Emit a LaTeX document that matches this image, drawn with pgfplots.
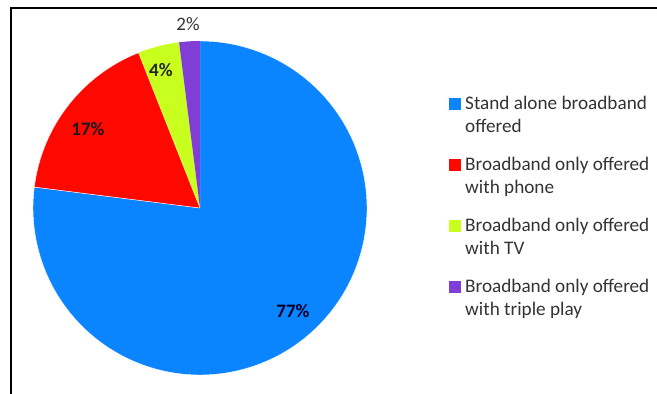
\documentclass[border=0pt]{standalone}
\usepackage{pgfplots}
\pgfplotsset{compat=1.18}
\usepackage{fontspec}
\setmainfont{Carlito}
\definecolor{pieblue}{RGB}{10,132,255}
\definecolor{piered}{RGB}{255,8,0}
\definecolor{piegreen}{RGB}{200,255,30}
\definecolor{piepurple}{RGB}{128,62,214}
% data (percent)
\def\vA{77}\def\vB{17}\def\vC{4}\def\vD{2}
\pgfmathsetmacro\aA{90}
\pgfmathsetmacro\aB{\aA-3.6*\vA}
\pgfmathsetmacro\aC{\aB-3.6*\vB}
\pgfmathsetmacro\aD{\aC-3.6*\vC}
\pgfmathsetmacro\aE{\aD-3.6*\vD}
\begin{document}
\begin{tikzpicture}
\useasboundingbox (0,0) rectangle (657pt,394pt);
\draw[line width=1.3pt] (11pt,0) -- (11pt,386pt) -- (657pt,386pt);
\begin{axis}[hide axis, x=167pt, y=167pt, xmin=-1.05, xmax=1.05, ymin=-1.05, ymax=1.05,
  anchor=origin, at={(200pt,186pt)}, clip=false]
\addplot[fill=pieblue, draw=white, line width=0.4pt, domain=\aB:\aA, samples=150, variable=\t] ({cos(\t)},{sin(\t)}) -- (axis cs:0,0) -- cycle;
\addplot[fill=piered, draw=white, line width=0.4pt, domain=\aC:\aB, samples=60, variable=\t] ({cos(\t)},{sin(\t)}) -- (axis cs:0,0) -- cycle;
\addplot[fill=piegreen, draw=none, domain=\aD:\aC, samples=20, variable=\t] ({cos(\t)},{sin(\t)}) -- (axis cs:0,0) -- cycle;
\addplot[fill=piepurple, draw=none, domain=\aE:\aD, samples=12, variable=\t] ({cos(\t)},{sin(\t)}) -- (axis cs:0,0) -- cycle;
\node[font=\fontsize{19}{23}\selectfont\bfseries, text=black!85!blue] at (axis cs:0.557,-0.617) {77\%};
\node[font=\fontsize{19}{23}\selectfont\bfseries, text=black!90] at (axis cs:-0.671,0.473) {17\%};
\node[font=\fontsize{19}{23}\selectfont\bfseries, text=black!85] at (axis cs:-0.234,0.826) {4\%};
\node[font=\fontsize{19}{23}\selectfont, text=black!80] at (axis cs:-0.072,1.10) {2\%};
\end{axis}
% legend
\foreach \c/\la/\lb [count=\i from 0] in {pieblue/Stand alone broadband/offered, piered/Broadband only offered/with phone, piegreen/Broadband only offered/with TV, piepurple/Broadband only offered/with triple play}{
  \pgfmathsetmacro\by{394-110-61*\i}
  \fill[\c] (449pt,\by pt) rectangle (461pt,\by pt+12pt);
  \node[anchor=base west, inner sep=0pt, text=black!80, font=\fontsize{19.2}{23}\selectfont] at (465pt,\by pt) {\la};
  \node[anchor=base west, inner sep=0pt, text=black!80, font=\fontsize{19.2}{23}\selectfont] at (465pt,\by pt-23pt) {\lb};
}
\end{tikzpicture}
\end{document}
